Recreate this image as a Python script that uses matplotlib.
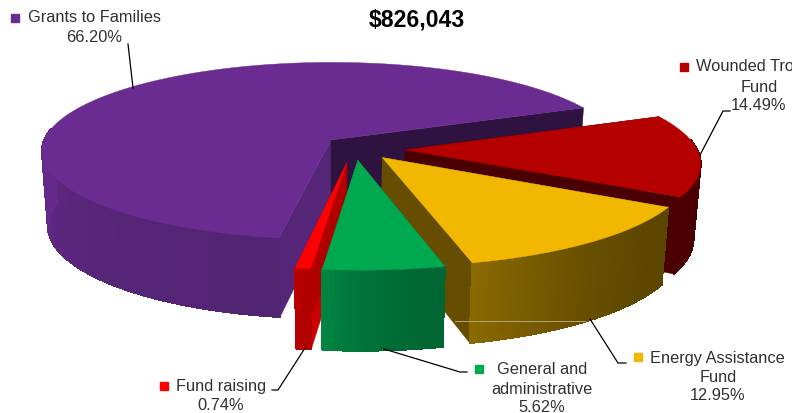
import numpy as np
import matplotlib
matplotlib.use('Agg')
import matplotlib.pyplot as plt
from matplotlib.colors import to_rgb

plt.rcParams['font.family'] = ['Liberation Sans', 'DejaVu Sans']

# shares in drawing order, clockwise from the top edge of the red slice
labels = ['Wounded Troop Fund', 'Energy Assistance Fund', 'General and administrative',
          'Fund raising', 'Grants to Families']
shares = [14.49, 12.95, 5.62, 0.74, 66.20]
total = '$826,043'

top_colors = ['#b50000', '#f2b700', '#00a94f', '#ff0000', '#6a2c91']
wall_light = ['#4a0000', '#8a6a00', '#008542', '#b80000', '#66298c']
wall_dark = ['#4a0000', '#5c4600', '#006633', '#b00000', '#522573']
start_wall = ['#4a0000', '#664d00', '#006633', '#cc0000', '#552678']
end_wall = ['#4a0000', '#664d00', '#006633', '#b00000', '#2e1240']

# how far each slice is pulled out of the pie (disc units) and its radius
explode = [(0.23, 0.11), (0.15, 0.195), (0.067, 0.225), (0.03, 0.25), (-0.025, 0.0)]
radius = [1, 1.03, 1.03, 1, 0.995]
draw_order = [4, 0, 1, 3, 2]

# pie projection, pixels
cx, cy = 338, 140
rx, ry = 288, 87.6
persp = 0.1236
height = 74
start_angle = -22.7


def proj(u, v):
    s = 1 / (1 - persp * v)
    return cx + rx * u * s, cy + ry * v * s


def drop(x, y, v):
    # same point at the bottom of the pie
    s = 1 / (1 - persp * v)
    return cx + (x - cx) * 0.98, y + height * s ** 0.5


def slice_points(a0, a1, off, r):
    th = np.radians(np.linspace(a0, a1, 160))
    v = r * np.sin(th) + off[1]
    x, y = proj(r * np.cos(th) + off[0], v)
    xb, yb = drop(x, y, v)
    ax0, ay0 = proj(off[0], off[1])
    bx0, by0 = drop(ax0, ay0, off[1])
    return th, x, y, xb, yb, (ax0, ay0), (bx0, by0)


def mix(c1, c2, t):
    c1, c2 = np.array(to_rgb(c1)), np.array(to_rgb(c2))
    return c1 + (c2 - c1) * t


fig = plt.figure(figsize=(8.1, 4.13), dpi=100)
ax = fig.add_axes([0, 0, 1, 1])
ax.set_xlim(0, 810)
ax.set_ylim(413, 0)
ax.axis('off')

angles = start_angle + np.concatenate([[0], np.cumsum(shares)]) * 3.6

for i in draw_order:
    a0, a1 = angles[i], angles[i + 1]
    th, x, y, xb, yb, apex, apex_b = slice_points(a0, a1, explode[i], radius[i])
    z = 2 + draw_order.index(i)

    # cut walls
    ax.fill([apex[0], x[0], xb[0], apex_b[0]], [apex[1], y[0], yb[0], apex_b[1]],
            color=start_wall[i], lw=0.3, zorder=z)
    ax.fill([apex[0], x[-1], xb[-1], apex_b[0]], [apex[1], y[-1], yb[-1], apex_b[1]],
            color=end_wall[i], lw=0.3, zorder=z)

    # outer wall, lighter towards the left, only the part facing us
    end = min(a1, 180)
    for k in range(len(x) - 1):
        if np.sin(th[k]) < -0.12:
            continue
        t = np.clip((np.degrees(th[k]) - a0) / (end - a0), 0, 1) ** 2
        col = mix(wall_dark[i], wall_light[i], t)
        ax.fill([x[k], x[k + 1], xb[k + 1], xb[k]], [y[k], y[k + 1], yb[k + 1], yb[k]],
                color=col, lw=0.8, antialiased=False, zorder=z)

    # top face
    ax.fill(np.r_[apex[0], x], np.r_[apex[1], y], color=top_colors[i], lw=0.3, zorder=z)

# faint seam across the yellow wall
ax.plot([455, 585], [321, 321], color='#b5a67a', lw=0.7, zorder=20)

# leader lines
leaders = [
    ([128, 133], [44, 88]),
    ([730, 723, 700], [111, 111, 155]),
    ([626, 618, 590], [363, 363, 319]),
    ([467, 460, 384], [372, 372, 349]),
    ([272, 278, 305], [390, 390, 348]),
]
for lx, ly in leaders:
    ax.plot(lx, ly, color='black', lw=0.9, zorder=21)

# legend squares
squares = [(684, 67), (638, 357), (479, 369), (164, 386), (15, 18)]
for (sx, sy), c in zip(squares, top_colors):
    ax.plot([sx], [sy], marker='s', ms=5.6, mfc=c, mec=c, zorder=22)

fs = 11.8
tc = '#303030'
ax.text(28, 18, labels[4], fontsize=fs, color=tc, va='center', ha='left')
ax.text(94, 38, f'{shares[4]:.2f}%', fontsize=fs, color=tc, va='center', ha='center')
ax.text(696, 67, 'Wounded Troop', fontsize=fs, color=tc, va='center', ha='left')
ax.text(759, 87, 'Fund', fontsize=fs, color=tc, va='center', ha='center')
ax.text(759, 106, f'{shares[0]:.2f}%', fontsize=fs, color=tc, va='center', ha='center')
ax.text(650, 358, 'Energy Assistance', fontsize=fs, color=tc, va='center', ha='left')
ax.text(718, 377, 'Fund', fontsize=fs, color=tc, va='center', ha='center')
ax.text(718, 396, f'{shares[1]:.2f}%', fontsize=fs, color=tc, va='center', ha='center')
ax.text(542, 370, 'General and', fontsize=fs, color=tc, va='center', ha='center')
ax.text(542, 389, 'administrative', fontsize=fs, color=tc, va='center', ha='center')
ax.text(542, 408, f'{shares[2]:.2f}%', fontsize=fs, color=tc, va='center', ha='center')
ax.text(176, 387, labels[3], fontsize=fs, color=tc, va='center', ha='left')
ax.text(221, 406, f'{shares[3]:.2f}%', fontsize=fs, color=tc, va='center', ha='center')

ax.text(416.5, 20, total, fontsize=16.6, fontweight='bold', color='black', va='center', ha='center',
        zorder=25)

# the source picture is cut off on the right
ax.fill([792, 810, 810, 792], [0, 0, 413, 413], color='white', lw=0, zorder=30)

fig.savefig('out.png', dpi=100)
